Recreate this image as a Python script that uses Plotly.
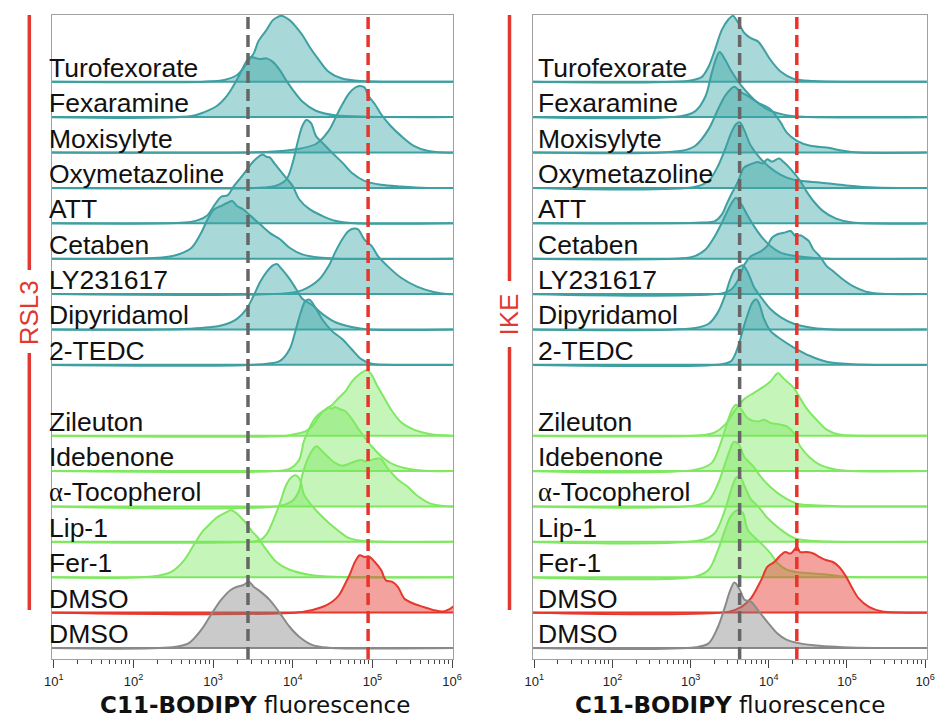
import plotly.graph_objects as go

# ---------------- rows (top -> bottom) ----------------
LABELS = ["Turofexorate", "Fexaramine", "Moxisylyte", "Oxymetazoline", "ATT", "Cetaben",
          "LY231617", "Dipyridamol", "2-TEDC", "Zileuton", "Idebenone", "α-Tocopherol",
          "Lip-1", "Fer-1", "DMSO", "DMSO"]
ROW_POS = [16, 15, 14, 13, 12, 11, 10, 9, 8, 6, 5, 4, 3, 2, 1, 0]
GROUPS = ["teal"] * 9 + ["green"] * 5 + ["red", "grey"]

# ---------------- histograms: (log10 fluorescence, height in row units) ----------------
# RSL3 panel
RSL3_TUROFEXORATE = [(2.89, 0.0), (3.14, 0.05), (3.30, 0.19), (3.38, 0.38), (3.45, 0.61), (3.51, 0.80), (3.57, 1.15),
                     (3.67, 1.46), (3.75, 1.74), (3.82, 1.84), (3.86, 1.86), (3.96, 1.74), (4.04, 1.55), (4.12, 1.32),
                     (4.21, 0.99), (4.33, 0.61), (4.45, 0.28), (4.62, 0.09), (4.86, 0.02)]
RSL3_FEXARAMINE = [(2.73, 0.03), (2.89, 0.14), (3.05, 0.32), (3.18, 0.62), (3.30, 1.06), (3.38, 1.42), (3.43, 1.62),
                   (3.47, 1.70), (3.53, 1.67), (3.59, 1.64), (3.67, 1.66), (3.75, 1.56), (3.84, 1.32), (3.92, 1.03),
                   (4.00, 0.77), (4.12, 0.44), (4.29, 0.18), (4.53, 0.05), (4.95, 0.01)]
RSL3_MOXISYLYTE = [(3.71, 0.02), (4.04, 0.09), (4.29, 0.24), (4.45, 0.61), (4.58, 1.18), (4.70, 1.65), (4.78, 1.83),
                   (4.84, 1.88), (4.90, 1.84), (4.95, 1.60), (5.03, 1.37), (5.11, 1.08), (5.23, 0.75), (5.36, 0.47),
                   (5.52, 0.19), (5.69, 0.05), (5.89, 0.0)]
RSL3_OXYMETAZOLINE = [(3.63, 0.01), (3.79, 0.06), (3.92, 0.24), (4.00, 0.72), (4.06, 1.28), (4.12, 1.75), (4.17, 1.92),
                      (4.23, 1.83), (4.29, 1.47), (4.37, 1.28), (4.49, 1.00), (4.62, 0.72), (4.74, 0.43), (4.90, 0.20),
                      (5.11, 0.09), (5.36, 0.04), (5.69, 0.0)]
RSL3_ATT = [(2.64, 0.02), (2.81, 0.09), (2.93, 0.23), (3.01, 0.49), (3.10, 0.75), (3.18, 0.79), (3.26, 1.05),
            (3.38, 1.38), (3.49, 1.71), (3.57, 1.88), (3.62, 1.94), (3.67, 1.88), (3.71, 1.86), (3.77, 1.69),
            (3.88, 1.38), (4.00, 1.05), (4.08, 0.68), (4.21, 0.40), (4.37, 0.21), (4.53, 0.07), (4.78, 0.0)]
RSL3_CETABEN = [(2.36, 0.03), (2.56, 0.12), (2.73, 0.31), (2.85, 0.73), (2.93, 1.11), (3.01, 1.39), (3.10, 1.49),
                (3.18, 1.58), (3.24, 1.63), (3.30, 1.49), (3.38, 1.39), (3.47, 1.21), (3.59, 0.97), (3.71, 0.73),
                (3.84, 0.55), (3.96, 0.31), (4.12, 0.12), (4.33, 0.03), (4.53, 0.0)]
RSL3_LY231617 = [(3.92, 0.02), (4.12, 0.11), (4.33, 0.41), (4.45, 0.79), (4.53, 1.17), (4.62, 1.54), (4.70, 1.78),
                 (4.77, 1.85), (4.82, 1.83), (4.90, 1.54), (4.99, 1.36), (5.07, 1.07), (5.19, 0.79), (5.36, 0.46),
                 (5.56, 0.21), (5.77, 0.06), (5.93, 0.0)]
RSL3_DIPYRIDAMOL = [(2.69, 0.02), (3.10, 0.11), (3.30, 0.30), (3.42, 0.58), (3.51, 0.96), (3.59, 1.34), (3.67, 1.62),
                    (3.75, 1.81), (3.80, 1.85), (3.86, 1.71), (3.96, 1.43), (4.04, 1.15), (4.12, 0.87), (4.25, 0.68),
                    (4.37, 0.44), (4.53, 0.21), (4.74, 0.07), (4.95, 0.0)]
RSL3_TEDC = [(3.63, 0.02), (3.84, 0.11), (3.96, 0.44), (4.04, 1.01), (4.10, 1.48), (4.16, 1.81), (4.21, 1.84),
             (4.27, 1.67), (4.37, 1.29), (4.49, 0.96), (4.62, 0.73), (4.74, 0.44), (4.86, 0.16), (4.99, 0.03),
             (5.15, 0.0)]
RSL3_ZILEUTON = [(3.92, 0.0), (4.06, 0.06), (4.16, 0.12), (4.25, 0.28), (4.33, 0.55), (4.39, 0.71), (4.45, 0.80),
                 (4.49, 0.86), (4.57, 1.05), (4.66, 1.25), (4.74, 1.52), (4.84, 1.74), (4.93, 1.85), (4.99, 1.72),
                 (5.05, 1.45), (5.15, 1.06), (5.23, 0.75), (5.36, 0.38), (5.52, 0.17), (5.73, 0.04), (5.97, 0.0)]
RSL3_IDEBENONE = [(3.79, 0.0), (3.96, 0.06), (4.08, 0.32), (4.14, 0.85), (4.21, 1.22), (4.29, 1.52), (4.37, 1.68),
                  (4.42, 1.74), (4.45, 1.80), (4.49, 1.76), (4.53, 1.81), (4.60, 1.74), (4.66, 1.69), (4.74, 1.48),
                  (4.82, 1.20), (4.90, 0.96), (4.99, 0.70), (5.11, 0.42), (5.27, 0.18), (5.48, 0.05), (5.73, 0.0)]
RSL3_TOCOPHEROL = [(3.84, 0.02), (4.00, 0.17), (4.08, 0.45), (4.12, 0.90), (4.21, 1.45), (4.27, 1.66), (4.30, 1.70),
                   (4.37, 1.56), (4.45, 1.38), (4.53, 1.23), (4.62, 1.15), (4.70, 1.20), (4.78, 1.27), (4.86, 1.31),
                   (4.92, 1.27), (5.03, 1.34), (5.10, 1.35), (5.19, 1.08), (5.32, 0.76), (5.44, 0.56), (5.56, 0.31),
                   (5.73, 0.08), (5.97, 0.0)]
RSL3_LIP1 = [(3.47, 0.0), (3.59, 0.05), (3.67, 0.21), (3.75, 0.58), (3.84, 1.10), (3.92, 1.62), (3.99, 1.84),
             (4.04, 1.88), (4.09, 1.76), (4.14, 1.34), (4.23, 1.05), (4.33, 0.80), (4.45, 0.54), (4.58, 0.30),
             (4.70, 0.11), (4.86, 0.03), (5.15, 0.0)]
RSL3_FER1 = [(2.23, 0.02), (2.48, 0.16), (2.64, 0.49), (2.77, 0.96), (2.87, 1.30), (2.95, 1.48), (3.03, 1.66),
             (3.10, 1.76), (3.18, 1.85), (3.22, 1.90), (3.28, 1.83), (3.34, 1.71), (3.42, 1.51), (3.49, 1.29),
             (3.55, 1.15), (3.67, 0.77), (3.79, 0.44), (3.96, 0.21), (4.21, 0.07), (4.53, 0.01)]
RSL3_DMSO_RSL3 = [(4.12, 0.02), (4.37, 0.16), (4.49, 0.30), (4.58, 0.49), (4.66, 0.82), (4.72, 1.10), (4.78, 1.43),
                  (4.84, 1.62), (4.90, 1.57), (4.95, 1.59), (5.03, 1.43), (5.11, 1.20), (5.17, 0.91), (5.25, 0.87),
                  (5.32, 0.73), (5.40, 0.40), (5.52, 0.25), (5.64, 0.16), (5.77, 0.07), (5.89, 0.03), (5.97, 0.10),
                  (6.03, 0.18)]
RSL3_DMSO = [(2.48, 0.02), (2.69, 0.13), (2.85, 0.51), (2.97, 0.93), (3.10, 1.36), (3.22, 1.64), (3.30, 1.73),
             (3.38, 1.78), (3.45, 1.87), (3.51, 1.73), (3.59, 1.60), (3.71, 1.36), (3.84, 0.98), (3.96, 0.60),
             (4.08, 0.32), (4.25, 0.08), (4.45, 0.01)]

# IKE panel
IKE_TUROFEXORATE = [(2.98, 0.03), (3.14, 0.13), (3.23, 0.43), (3.31, 0.90), (3.40, 1.47), (3.48, 1.75), (3.54, 1.86),
                    (3.61, 1.66), (3.69, 1.37), (3.77, 1.23), (3.86, 1.14), (3.94, 0.90), (4.02, 0.62), (4.15, 0.29),
                    (4.32, 0.08), (4.57, 0.02), (5.07, 0.0)]
IKE_FEXARAMINE = [(2.89, 0.03), (3.06, 0.17), (3.19, 0.59), (3.27, 1.25), (3.33, 1.68), (3.37, 1.84), (3.44, 1.63),
                  (3.52, 1.30), (3.65, 0.88), (3.81, 0.50), (3.98, 0.22), (4.19, 0.07), (4.44, 0.01)]
IKE_MOXISYLYTE = [(2.89, 0.05), (3.06, 0.19), (3.23, 0.66), (3.35, 1.22), (3.44, 1.60), (3.52, 1.81), (3.56, 1.86),
                  (3.65, 1.69), (3.73, 1.60), (3.86, 1.41), (4.02, 1.22), (4.15, 0.85), (4.23, 0.56), (4.36, 0.33),
                  (4.53, 0.19), (4.74, 0.14), (4.95, 0.05), (5.15, 0.0)]
IKE_OXYMETAZOLINE = [(3.06, 0.03), (3.23, 0.20), (3.35, 0.62), (3.44, 1.09), (3.52, 1.56), (3.58, 1.80), (3.63, 1.85),
                     (3.69, 1.61), (3.77, 1.19), (3.90, 0.81), (4.07, 0.48), (4.23, 0.29), (4.40, 0.20), (4.65, 0.15),
                     (4.95, 0.08), (5.36, 0.01)]
IKE_ATT = [(3.14, 0.02), (3.31, 0.06), (3.40, 0.25), (3.46, 0.54), (3.52, 0.82), (3.61, 1.20), (3.68, 1.57),
           (3.77, 1.67), (3.86, 1.73), (3.92, 1.69), (3.98, 1.81), (4.04, 1.74), (4.13, 1.83), (4.19, 1.73),
           (4.28, 1.53), (4.40, 1.20), (4.48, 0.91), (4.57, 0.63), (4.69, 0.35), (4.86, 0.13), (5.07, 0.02)]
IKE_CETABEN = [(2.89, 0.01), (3.06, 0.08), (3.19, 0.26), (3.31, 0.64), (3.40, 1.02), (3.48, 1.39), (3.54, 1.63),
               (3.58, 1.72), (3.65, 1.53), (3.73, 1.21), (3.81, 0.92), (3.90, 0.64), (4.02, 0.36), (4.15, 0.17),
               (4.32, 0.08), (4.53, 0.03), (4.74, 0.0)]
IKE_LY231617 = [(3.40, 0.02), (3.52, 0.13), (3.61, 0.41), (3.69, 0.84), (3.77, 1.07), (3.90, 1.21), (3.98, 1.36),
                (4.04, 1.59), (4.11, 1.69), (4.19, 1.73), (4.28, 1.78), (4.34, 1.64), (4.40, 1.66), (4.46, 1.59),
                (4.51, 1.50), (4.57, 1.26), (4.65, 1.07), (4.74, 0.79), (4.82, 0.65), (4.95, 0.41), (5.07, 0.23),
                (5.24, 0.07), (5.45, 0.01)]
IKE_DIPYRIDAMOL = [(3.06, 0.04), (3.23, 0.16), (3.35, 0.49), (3.44, 0.96), (3.50, 1.38), (3.56, 1.67), (3.63, 1.78),
                   (3.67, 1.81), (3.73, 1.62), (3.81, 1.20), (3.90, 0.91), (4.02, 0.58), (4.15, 0.35), (4.32, 0.16),
                   (4.57, 0.04), (4.82, 0.0)]
IKE_TEDC = [(3.40, 0.02), (3.52, 0.11), (3.61, 0.54), (3.67, 1.01), (3.73, 1.43), (3.79, 1.76), (3.84, 1.85),
            (3.88, 1.71), (3.94, 1.29), (4.02, 0.96), (4.15, 0.73), (4.32, 0.49), (4.53, 0.25), (4.74, 0.09),
            (4.99, 0.03), (5.24, 0.0)]
IKE_ZILEUTON = [(3.14, 0.01), (3.31, 0.09), (3.44, 0.31), (3.56, 0.69), (3.69, 1.04), (3.81, 1.21), (3.94, 1.39),
                (4.02, 1.53), (4.09, 1.72), (4.12, 1.77), (4.17, 1.66), (4.23, 1.53), (4.32, 1.35), (4.40, 1.06),
                (4.48, 0.78), (4.61, 0.45), (4.74, 0.17), (4.90, 0.03), (5.15, 0.0)]
IKE_IDEBENONE = [(3.06, 0.04), (3.27, 0.23), (3.40, 0.89), (3.48, 1.45), (3.54, 1.78), (3.58, 1.87), (3.65, 1.73),
                 (3.73, 1.49), (3.86, 1.40), (3.94, 1.45), (4.02, 1.36), (4.15, 1.31), (4.23, 1.26), (4.32, 1.07),
                 (4.40, 0.70), (4.53, 0.37), (4.65, 0.18), (4.82, 0.06), (5.07, 0.0)]
IKE_TOCOPHEROL = [(3.06, 0.03), (3.23, 0.17), (3.35, 0.64), (3.44, 1.21), (3.50, 1.58), (3.55, 1.82), (3.61, 1.77),
                  (3.69, 1.39), (3.81, 1.11), (3.90, 0.83), (4.02, 0.55), (4.19, 0.26), (4.36, 0.08), (4.57, 0.03),
                  (4.95, 0.0)]
IKE_LIP1 = [(3.14, 0.05), (3.31, 0.25), (3.44, 0.91), (3.52, 1.48), (3.58, 1.81), (3.63, 1.85), (3.69, 1.57),
            (3.77, 1.20), (3.86, 1.01), (3.98, 0.68), (4.15, 0.35), (4.32, 0.11), (4.53, 0.03), (4.82, 0.0)]
IKE_FER1 = [(3.06, 0.02), (3.23, 0.21), (3.35, 0.77), (3.44, 1.34), (3.50, 1.67), (3.56, 1.85), (3.61, 1.90),
            (3.67, 1.81), (3.73, 1.34), (3.90, 0.96), (4.02, 0.68), (4.11, 0.40), (4.23, 0.21), (4.40, 0.13),
            (4.74, 0.08), (4.95, 0.02), (5.15, 0.0)]
IKE_DMSO_IKE = [(3.48, 0.02), (3.65, 0.16), (3.77, 0.40), (3.90, 0.91), (3.98, 1.29), (4.07, 1.43), (4.15, 1.62),
                (4.21, 1.71), (4.28, 1.67), (4.36, 1.85), (4.40, 1.71), (4.48, 1.71), (4.57, 1.67), (4.65, 1.57),
                (4.74, 1.48), (4.82, 1.43), (4.90, 1.29), (4.99, 1.01), (5.07, 0.68), (5.15, 0.40), (5.28, 0.16),
                (5.45, 0.03), (5.66, 0.0)]
IKE_DMSO = [(3.06, 0.02), (3.23, 0.13), (3.35, 0.60), (3.44, 1.17), (3.50, 1.59), (3.56, 1.85), (3.63, 1.64),
            (3.69, 1.36), (3.77, 1.31), (3.86, 1.07), (3.98, 0.74), (4.11, 0.41), (4.23, 0.23), (4.40, 0.13),
            (4.65, 0.06), (4.95, 0.02), (5.36, 0.0)]

RSL3_CURVES = [RSL3_TUROFEXORATE, RSL3_FEXARAMINE, RSL3_MOXISYLYTE, RSL3_OXYMETAZOLINE, RSL3_ATT, RSL3_CETABEN,
               RSL3_LY231617, RSL3_DIPYRIDAMOL, RSL3_TEDC, RSL3_ZILEUTON, RSL3_IDEBENONE, RSL3_TOCOPHEROL,
               RSL3_LIP1, RSL3_FER1, RSL3_DMSO_RSL3, RSL3_DMSO]
IKE_CURVES = [IKE_TUROFEXORATE, IKE_FEXARAMINE, IKE_MOXISYLYTE, IKE_OXYMETAZOLINE, IKE_ATT, IKE_CETABEN,
              IKE_LY231617, IKE_DIPYRIDAMOL, IKE_TEDC, IKE_ZILEUTON, IKE_IDEBENONE, IKE_TOCOPHEROL,
              IKE_LIP1, IKE_FER1, IKE_DMSO_IKE, IKE_DMSO]

# reference (dashed) positions: untreated DMSO peak and inducer DMSO peak
RSL3_GREY_REF, RSL3_RED_REF = 2740, 88300
IKE_GREY_REF, IKE_RED_REF = 4230, 22800

PANEL_NAMES = ["RSL3", "IKE"]
TICK_EXPONENTS = [1, 2, 3, 4, 5, 6]
TICK_TEXT = ["10<sup>%d</sup>" % e for e in TICK_EXPONENTS]

# ---------------- styling ----------------
W, H = 943, 720
COLORS = {
    "teal": ("#3f9fa1", "rgba(62,168,168,0.45)"),
    "green": ("#80e862", "rgba(120,230,90,0.42)"),
    "red": ("#e5392e", "rgba(232,60,50,0.48)"),
    "grey": ("#8a8a8a", "rgba(128,128,128,0.42)"),
}
SIDE_RED = "#e0392f"
LABEL_FONT = "Liberation Sans, Arial, sans-serif"
X_START, X_END = 0.9, 6.1  # log-range extent of drawn baselines (clipped by the axes)

PANELS = [
    dict(curves=RSL3_CURVES, xa="x", ya="y", xdom=[44.3 / W, 453.3 / W], xrange=[0.9704, 6.0136],
         grey=RSL3_GREY_REF, red=RSL3_RED_REF, side_x=21.7, gap=(270, 353), label_y=313, title_x=252,
         label_shift=-8),
    dict(curves=IKE_CURVES, xa="x2", ya="y2", xdom=[534.3 / W, 935.7 / W], xrange=[0.9786, 6.0214],
         grey=IKE_GREY_REF, red=IKE_RED_REF, side_x=510.7, gap=(281, 347), label_y=314, title_x=735,
         label_shift=0),
]
YDOM = [1 - 659 / H, 1 - 15 / H]
YRANGE = [-0.311, 17.885]

fig = go.Figure()
annotations = []
shapes = []

for p_i, panel in enumerate(PANELS):
    for label, row, group, pts in zip(LABELS, ROW_POS, GROUPS, panel["curves"]):
        line_c, fill_c = COLORS[group]
        # baseline across the full width
        fig.add_trace(go.Scatter(
            x=[10 ** X_START, 10 ** X_END], y=[row, row], mode="lines",
            line=dict(color=line_c, width=2), xaxis=panel["xa"], yaxis=panel["ya"],
            hoverinfo="skip", showlegend=False))
        lx = [X_START] + [q[0] for q in pts] + [X_END]
        hh = [0.0] + [q[1] for q in pts] + [0.0]
        fig.add_trace(go.Scatter(
            x=[10 ** v for v in lx], y=[row + v for v in hh], mode="lines",
            line=dict(color=line_c, width=2, shape="spline", smoothing=0.9),
            fill="toself", fillcolor=fill_c, xaxis=panel["xa"], yaxis=panel["ya"],
            hoverinfo="skip", showlegend=False))
        text = label
        if label.startswith("α"):
            text = '<span style="font-family:Liberation Serif">α</span>' + label[1:]
        annotations.append(dict(
            text=text, xref=panel["xa"] + " domain", x=0.008, xshift=panel["label_shift"],
            yref=panel["ya"], y=row, yshift=-3,
            xanchor="left", yanchor="bottom", showarrow=False,
            font=dict(family=LABEL_FONT, size=26.5, color="#111111")))

    # dashed reference lines
    for val, col in [(panel["grey"], "#666666"), (panel["red"], "#e8342b")]:
        shapes.append(dict(type="line", xref=panel["xa"], yref=panel["ya"] + " domain",
                           x0=val, x1=val, y0=0, y1=1, layer="above",
                           line=dict(color=col, width=3.5, dash="12px,6px")))

    # side red bar with treatment label
    sx = panel["side_x"] / W
    g0, g1 = panel["gap"]
    for a, b in [(15, g0), (g1, 610)]:
        shapes.append(dict(type="line", xref="paper", yref="paper", x0=sx, x1=sx,
                           y0=1 - a / H, y1=1 - b / H, line=dict(color=SIDE_RED, width=3.5)))
    annotations.append(dict(text=PANEL_NAMES[p_i], xref="paper", yref="paper", x=sx, y=1 - panel["label_y"] / H,
                            textangle=-90, showarrow=False, xanchor="center", yanchor="middle",
                            font=dict(family=LABEL_FONT, size=26, color=SIDE_RED)))
    # x title
    annotations.append(dict(text="<b>C11-BODIPY</b> fluorescence", xref="paper", yref="paper",
                            x=panel["title_x"] / W, y=0, showarrow=False,
                            xanchor="center", yanchor="bottom",
                            font=dict(family="DejaVu Sans, sans-serif", size=23, color="#111111")))

axis_common_x = dict(type="log", tickvals=[10 ** e for e in TICK_EXPONENTS], ticktext=TICK_TEXT,
                     showline=True, mirror=True, linecolor="#a0a0a0", linewidth=1,
                     ticks="outside", ticklen=8, tickwidth=1, tickcolor="#444444", showgrid=False,
                     zeroline=False, tickfont=dict(family=LABEL_FONT, size=13, color="#222222"),
                     ticklabelstandoff=2,
                     minor=dict(ticks="outside", ticklen=4, tickwidth=1, tickcolor="#444444",
                                dtick="D1", showgrid=False),
                     fixedrange=True)
axis_common_y = dict(range=YRANGE, domain=YDOM, showline=True, mirror=True, linecolor="#a0a0a0", linewidth=1,
                     ticks="", showticklabels=False, showgrid=False, zeroline=False, fixedrange=True)

fig.update_layout(
    width=W, height=H, margin=dict(l=0, r=0, t=0, b=0),
    paper_bgcolor="white", plot_bgcolor="white", showlegend=False, hovermode=False,
    xaxis=dict(axis_common_x, domain=PANELS[0]["xdom"], range=PANELS[0]["xrange"], anchor="y"),
    yaxis=dict(axis_common_y, anchor="x"),
    xaxis2=dict(axis_common_x, domain=PANELS[1]["xdom"], range=PANELS[1]["xrange"], anchor="y2"),
    yaxis2=dict(axis_common_y, anchor="x2"),
    annotations=annotations, shapes=shapes,
)

fig.write_html("out.html")
